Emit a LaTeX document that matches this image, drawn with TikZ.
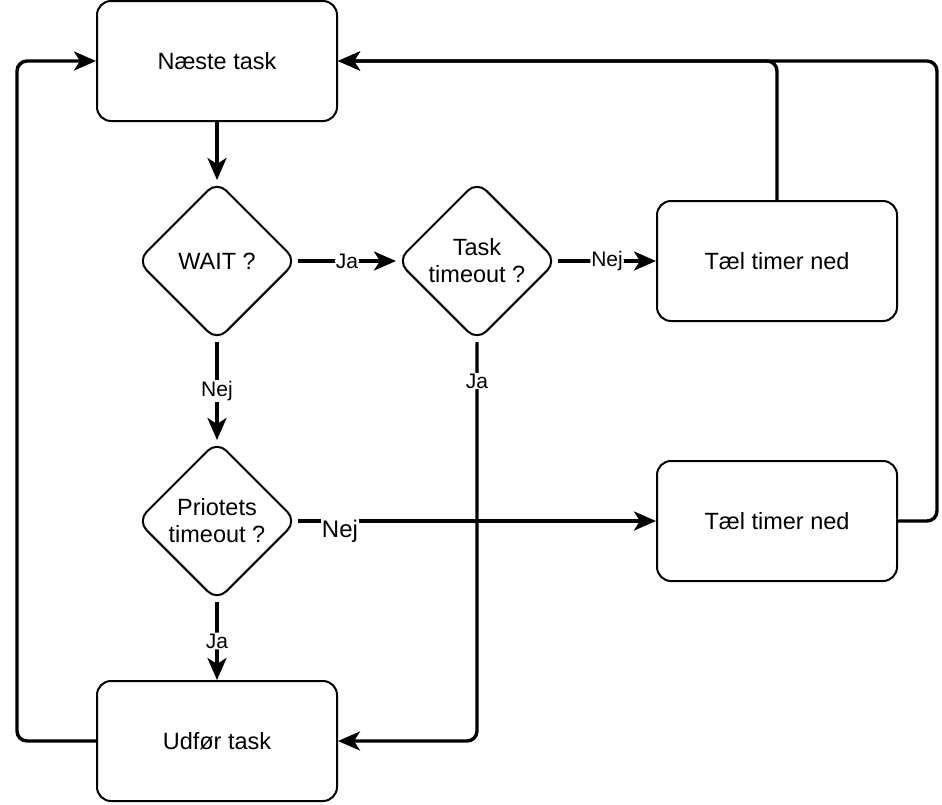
\documentclass[tikz,border=0pt]{standalone}
\usepackage{fontspec}
\setmainfont{Liberation Sans}
\usetikzlibrary{shapes.geometric,arrows.meta}
\begin{document}
\begin{tikzpicture}[x=1pt,y=-1pt,
  box/.style={draw, line width=2pt, rounded corners=14pt, minimum width=240pt, minimum height=120pt, inner sep=0pt, font=\fontsize{23.5}{27}\selectfont},
  dia/.style={diamond, aspect=1, draw, line width=2pt, rounded corners=13pt, minimum width=160pt, minimum height=160pt, inner sep=0pt, align=center, font=\fontsize{23.5}{27}\selectfont},
  conn/.style={line width=3.4pt, -{Stealth[length=22pt,width=19pt,inset=6pt]}, rounded corners=10pt},
  lab/.style={fill=white, inner sep=1pt, font=\fontsize{21}{25}\selectfont},
  biglab/.style={lab, font=\fontsize{24}{28}\selectfont}]
\useasboundingbox (0,0) rectangle (942,804);
\node[box] (naeste) at (217,61) {Næste task};
\node[box] (udfor) at (217,741) {Udfør task};
\node[box] (tael1) at (777,261) {Tæl timer ned};
\node[box] (tael2) at (777,521) {Tæl timer ned};
\node[dia] (wait) at (217,261) {WAIT ?};
\node[dia] (tto) at (477,261) {Task\\timeout ?};
\node[dia] (pto) at (217,521) {Priotets\\timeout ?};
\coordinate (l1) at (17,741);
\coordinate (l2) at (17,61);
\coordinate (r1) at (937,521);
\coordinate (r2) at (937,61);
\draw[conn] (naeste.south) -- (wait.north);
\draw[conn] (wait.east) -- node[lab] {Ja} (tto.west);
\draw[conn] (tto.east) -- node[lab] {Nej} (tael1.west);
\draw[conn] (wait.south) -- node[lab] {Nej} (pto.north);
\draw[conn] (pto.south) -- node[lab] {Ja} (udfor.north);
\draw[conn] (pto.east) -- (tael2.west);
\draw[conn] (tto.south) |- (udfor.east);
\draw[conn] (udfor.west) -- (l1) -- (l2) -- (naeste.west);
\draw[conn] (tael1.north) |- (naeste.east);
\draw[conn] (tael2.east) -- (r1) -- (r2) -- (naeste.east);
\node[biglab] (lnej) at (340,531) {Nej};
\node[lab] (lja) at (477,381) {Ja};
\end{tikzpicture}
\end{document}
